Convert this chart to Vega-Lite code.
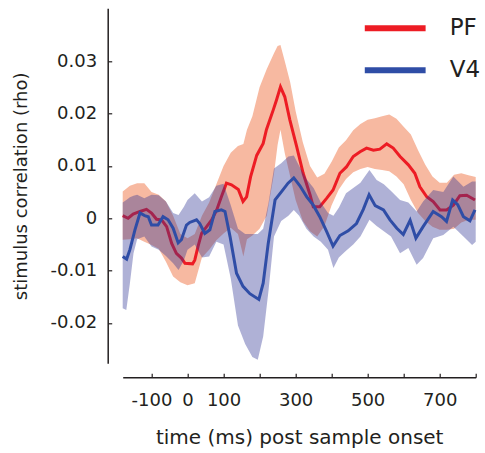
{
  "$schema": "https://vega.github.io/schema/vega-lite/v6.json",
  "width": 353,
  "height": 355,
  "autosize": {"type": "none"},
  "padding": {"left": 122.7, "top": 8.3, "right": 9.3, "bottom": 89.7},
  "config": {
    "font": "DejaVu Sans",
    "view": {"stroke": null},
    "axis": {
      "grid": false,
      "domainColor": "#231F20",
      "tickColor": "#231F20",
      "labelColor": "#231F20",
      "titleColor": "#231F20",
      "domainWidth": 1.5,
      "tickWidth": 1.2,
      "tickSize": -4,
      "labelFontSize": 18,
      "titleFontWeight": "normal",
      "labelFlush": false
    }
  },
  "datasets": {
    "pf_band": [
      {"t": -180, "lo": -0.0041, "hi": 0.0051},
      {"t": -160, "lo": -0.0040, "hi": 0.0062},
      {"t": -140, "lo": -0.0038, "hi": 0.0067},
      {"t": -120, "lo": -0.0045, "hi": 0.0067},
      {"t": -100, "lo": -0.0051, "hi": 0.0050},
      {"t": -80, "lo": -0.0058, "hi": 0.0045},
      {"t": -60, "lo": -0.0083, "hi": 0.0032},
      {"t": -40, "lo": -0.0111, "hi": 0.0005},
      {"t": -20, "lo": -0.0122, "hi": -0.0030},
      {"t": 0, "lo": -0.0128, "hi": -0.0038},
      {"t": 20, "lo": -0.0124, "hi": -0.0030},
      {"t": 40, "lo": -0.0075, "hi": 0.0005},
      {"t": 60, "lo": -0.0060, "hi": 0.0030},
      {"t": 80, "lo": -0.0042, "hi": 0.0065},
      {"t": 100, "lo": -0.0029, "hi": 0.0100},
      {"t": 120, "lo": -0.0018, "hi": 0.0125},
      {"t": 140, "lo": -0.0030, "hi": 0.0138},
      {"t": 155, "lo": -0.0073, "hi": 0.0142},
      {"t": 165, "lo": -0.0040, "hi": 0.0169},
      {"t": 180, "lo": -0.0033, "hi": 0.0195},
      {"t": 200, "lo": -0.0020, "hi": 0.0250},
      {"t": 220, "lo": 0.0005, "hi": 0.0285},
      {"t": 240, "lo": 0.0085, "hi": 0.0315},
      {"t": 250, "lo": 0.0140, "hi": 0.0329},
      {"t": 258, "lo": 0.0169, "hi": 0.0331},
      {"t": 270, "lo": 0.0124, "hi": 0.0300},
      {"t": 285, "lo": 0.0080, "hi": 0.0260},
      {"t": 300, "lo": 0.0035, "hi": 0.0205},
      {"t": 320, "lo": -0.0005, "hi": 0.0145},
      {"t": 340, "lo": -0.0025, "hi": 0.0100},
      {"t": 360, "lo": -0.0035, "hi": 0.0078},
      {"t": 380, "lo": -0.0015, "hi": 0.0085},
      {"t": 400, "lo": 0.0025, "hi": 0.0108},
      {"t": 420, "lo": 0.0055, "hi": 0.0135},
      {"t": 440, "lo": 0.0075, "hi": 0.0149},
      {"t": 460, "lo": 0.0088, "hi": 0.0168},
      {"t": 480, "lo": 0.0094, "hi": 0.0180},
      {"t": 500, "lo": 0.0098, "hi": 0.0188},
      {"t": 520, "lo": 0.0094, "hi": 0.0191},
      {"t": 540, "lo": 0.0092, "hi": 0.0195},
      {"t": 560, "lo": 0.0090, "hi": 0.0198},
      {"t": 580, "lo": 0.0080, "hi": 0.0190},
      {"t": 600, "lo": 0.0065, "hi": 0.0175},
      {"t": 620, "lo": 0.0035, "hi": 0.0160},
      {"t": 640, "lo": 0.0010, "hi": 0.0130},
      {"t": 660, "lo": -0.0005, "hi": 0.0102},
      {"t": 680, "lo": -0.0016, "hi": 0.0080},
      {"t": 700, "lo": -0.0022, "hi": 0.0068},
      {"t": 720, "lo": -0.0022, "hi": 0.0068},
      {"t": 740, "lo": -0.0020, "hi": 0.0083},
      {"t": 760, "lo": -0.0008, "hi": 0.0086},
      {"t": 780, "lo": -0.0003, "hi": 0.0082},
      {"t": 800, "lo": -0.0003, "hi": 0.0079}
    ],
    "v4_band": [
      {"t": -180, "lo": -0.0172, "hi": 0.0030},
      {"t": -170, "lo": -0.0175, "hi": 0.0035},
      {"t": -160, "lo": -0.0124, "hi": 0.0040},
      {"t": -150, "lo": -0.0067, "hi": 0.0043},
      {"t": -140, "lo": -0.0040, "hi": 0.0045},
      {"t": -120, "lo": -0.0035, "hi": 0.0038},
      {"t": -100, "lo": -0.0054, "hi": 0.0045},
      {"t": -80, "lo": -0.0060, "hi": 0.0044},
      {"t": -60, "lo": -0.0072, "hi": 0.0032},
      {"t": -40, "lo": -0.0086, "hi": 0.0010},
      {"t": -25, "lo": -0.0099, "hi": 0.0006},
      {"t": -10, "lo": -0.0080, "hi": 0.0022},
      {"t": 0, "lo": -0.0060, "hi": 0.0035},
      {"t": 20, "lo": -0.0050, "hi": 0.0048},
      {"t": 40, "lo": -0.0075, "hi": 0.0032},
      {"t": 60, "lo": -0.0073, "hi": 0.0040},
      {"t": 80, "lo": -0.0045, "hi": 0.0062},
      {"t": 100, "lo": -0.0050, "hi": 0.0066},
      {"t": 120, "lo": -0.0115, "hi": 0.0025},
      {"t": 140, "lo": -0.0205, "hi": -0.0020},
      {"t": 160, "lo": -0.0240, "hi": -0.0030},
      {"t": 180, "lo": -0.0265, "hi": -0.0030},
      {"t": 195, "lo": -0.0270, "hi": -0.0030},
      {"t": 210, "lo": -0.0226, "hi": -0.0020},
      {"t": 225, "lo": -0.0137, "hi": 0.0030},
      {"t": 240, "lo": -0.0035, "hi": 0.0095},
      {"t": 260, "lo": -0.0005, "hi": 0.0105},
      {"t": 280, "lo": 0.0005, "hi": 0.0118},
      {"t": 295, "lo": 0.0016, "hi": 0.0120},
      {"t": 310, "lo": 0.0005, "hi": 0.0100},
      {"t": 330, "lo": -0.0020, "hi": 0.0075},
      {"t": 350, "lo": -0.0035, "hi": 0.0058},
      {"t": 370, "lo": -0.0045, "hi": 0.0030},
      {"t": 390, "lo": -0.0060, "hi": 0.0010},
      {"t": 405, "lo": -0.0095, "hi": 0.0005},
      {"t": 420, "lo": -0.0075, "hi": 0.0020},
      {"t": 440, "lo": -0.0062, "hi": 0.0048},
      {"t": 460, "lo": -0.0050, "hi": 0.0058},
      {"t": 480, "lo": -0.0035, "hi": 0.0068},
      {"t": 505, "lo": -0.0003, "hi": 0.0092},
      {"t": 525, "lo": -0.0015, "hi": 0.0073},
      {"t": 545, "lo": -0.0025, "hi": 0.0065},
      {"t": 565, "lo": -0.0035, "hi": 0.0052},
      {"t": 590, "lo": -0.0067, "hi": 0.0035},
      {"t": 613, "lo": -0.0057, "hi": 0.0030},
      {"t": 636, "lo": -0.0089, "hi": 0.0013},
      {"t": 654, "lo": -0.0076, "hi": 0.0032},
      {"t": 682, "lo": -0.0038, "hi": 0.0054},
      {"t": 710, "lo": -0.0032, "hi": 0.0050},
      {"t": 738, "lo": -0.0016, "hi": 0.0080},
      {"t": 766, "lo": -0.0035, "hi": 0.0060},
      {"t": 790, "lo": -0.0051, "hi": 0.0070},
      {"t": 800, "lo": -0.0045, "hi": 0.0070}
    ],
    "pf_line": [
      {"series": "PF", "t": -180, "v": 0.0005},
      {"series": "PF", "t": -165, "v": 0.0},
      {"series": "PF", "t": -151, "v": 0.0008},
      {"series": "PF", "t": -132, "v": 0.0013},
      {"series": "PF", "t": -114, "v": 0.0017},
      {"series": "PF", "t": -100, "v": 0.0010},
      {"series": "PF", "t": -86, "v": -0.0002},
      {"series": "PF", "t": -72, "v": -0.0003},
      {"series": "PF", "t": -58, "v": -0.0016},
      {"series": "PF", "t": -44, "v": -0.0048},
      {"series": "PF", "t": -31, "v": -0.0067},
      {"series": "PF", "t": -17, "v": -0.0076},
      {"series": "PF", "t": -7, "v": -0.0086},
      {"series": "PF", "t": 14, "v": -0.0087},
      {"series": "PF", "t": 20, "v": -0.0080},
      {"series": "PF", "t": 29, "v": -0.0054},
      {"series": "PF", "t": 39, "v": -0.0029},
      {"series": "PF", "t": 53, "v": -0.0016},
      {"series": "PF", "t": 67, "v": -0.0003},
      {"series": "PF", "t": 81, "v": 0.0016},
      {"series": "PF", "t": 94, "v": 0.0041},
      {"series": "PF", "t": 108, "v": 0.0067},
      {"series": "PF", "t": 122, "v": 0.0064},
      {"series": "PF", "t": 141, "v": 0.0055},
      {"series": "PF", "t": 154, "v": 0.0032},
      {"series": "PF", "t": 164, "v": 0.0041},
      {"series": "PF", "t": 175, "v": 0.0079},
      {"series": "PF", "t": 192, "v": 0.0120},
      {"series": "PF", "t": 210, "v": 0.0143},
      {"series": "PF", "t": 219, "v": 0.0169},
      {"series": "PF", "t": 238, "v": 0.0207},
      {"series": "PF", "t": 247, "v": 0.0226},
      {"series": "PF", "t": 258, "v": 0.0251},
      {"series": "PF", "t": 270, "v": 0.0232},
      {"series": "PF", "t": 284, "v": 0.0188},
      {"series": "PF", "t": 303, "v": 0.0137},
      {"series": "PF", "t": 321, "v": 0.0086},
      {"series": "PF", "t": 340, "v": 0.0045},
      {"series": "PF", "t": 349, "v": 0.0022},
      {"series": "PF", "t": 367, "v": 0.0022},
      {"series": "PF", "t": 386, "v": 0.0038},
      {"series": "PF", "t": 404, "v": 0.0054},
      {"series": "PF", "t": 423, "v": 0.0086},
      {"series": "PF", "t": 441, "v": 0.0098},
      {"series": "PF", "t": 460, "v": 0.0118},
      {"series": "PF", "t": 479, "v": 0.0127},
      {"series": "PF", "t": 497, "v": 0.0134},
      {"series": "PF", "t": 516, "v": 0.0130},
      {"series": "PF", "t": 534, "v": 0.0132},
      {"series": "PF", "t": 553, "v": 0.0142},
      {"series": "PF", "t": 571, "v": 0.0134},
      {"series": "PF", "t": 590, "v": 0.0118},
      {"series": "PF", "t": 613, "v": 0.0102},
      {"series": "PF", "t": 631, "v": 0.0086},
      {"series": "PF", "t": 645, "v": 0.0060},
      {"series": "PF", "t": 664, "v": 0.0041},
      {"series": "PF", "t": 682, "v": 0.0032},
      {"series": "PF", "t": 701, "v": 0.0016},
      {"series": "PF", "t": 719, "v": 0.0016},
      {"series": "PF", "t": 738, "v": 0.0025},
      {"series": "PF", "t": 756, "v": 0.0043},
      {"series": "PF", "t": 775, "v": 0.0044},
      {"series": "PF", "t": 798, "v": 0.0035}
    ],
    "v4_line": [
      {"series": "V4", "t": -180, "v": -0.0073},
      {"series": "V4", "t": -169, "v": -0.0078},
      {"series": "V4", "t": -160, "v": -0.0060},
      {"series": "V4", "t": -146, "v": -0.0022},
      {"series": "V4", "t": -132, "v": 0.0010},
      {"series": "V4", "t": -119, "v": 0.0005},
      {"series": "V4", "t": -109, "v": 0.0003},
      {"series": "V4", "t": -100, "v": -0.0013},
      {"series": "V4", "t": -82, "v": -0.0013},
      {"series": "V4", "t": -68, "v": 0.0003},
      {"series": "V4", "t": -54, "v": -0.0003},
      {"series": "V4", "t": -40, "v": -0.0019},
      {"series": "V4", "t": -26, "v": -0.0047},
      {"series": "V4", "t": -17, "v": -0.0041},
      {"series": "V4", "t": -3, "v": -0.0013},
      {"series": "V4", "t": 6, "v": -0.0008},
      {"series": "V4", "t": 25, "v": -0.0003},
      {"series": "V4", "t": 34, "v": -0.0010},
      {"series": "V4", "t": 48, "v": -0.0029},
      {"series": "V4", "t": 62, "v": -0.0022},
      {"series": "V4", "t": 76, "v": 0.0013},
      {"series": "V4", "t": 94, "v": 0.0016},
      {"series": "V4", "t": 104, "v": 0.0013},
      {"series": "V4", "t": 118, "v": -0.0035},
      {"series": "V4", "t": 136, "v": -0.0105},
      {"series": "V4", "t": 154, "v": -0.0130},
      {"series": "V4", "t": 173, "v": -0.0144},
      {"series": "V4", "t": 198, "v": -0.0155},
      {"series": "V4", "t": 210, "v": -0.0124},
      {"series": "V4", "t": 224, "v": -0.0048},
      {"series": "V4", "t": 243, "v": 0.0035},
      {"series": "V4", "t": 261, "v": 0.0051},
      {"series": "V4", "t": 279, "v": 0.0067},
      {"series": "V4", "t": 295, "v": 0.0077},
      {"series": "V4", "t": 312, "v": 0.0062},
      {"series": "V4", "t": 331, "v": 0.0041},
      {"series": "V4", "t": 349, "v": 0.0025},
      {"series": "V4", "t": 367, "v": 0.0003},
      {"series": "V4", "t": 386, "v": -0.0025},
      {"series": "V4", "t": 404, "v": -0.0053},
      {"series": "V4", "t": 423, "v": -0.0033},
      {"series": "V4", "t": 446, "v": -0.0024},
      {"series": "V4", "t": 469, "v": -0.0010},
      {"series": "V4", "t": 488, "v": 0.0017},
      {"series": "V4", "t": 504, "v": 0.0045},
      {"series": "V4", "t": 521, "v": 0.0024},
      {"series": "V4", "t": 544, "v": 0.0016},
      {"series": "V4", "t": 562, "v": -0.0003},
      {"series": "V4", "t": 581, "v": -0.0019},
      {"series": "V4", "t": 599, "v": -0.0031},
      {"series": "V4", "t": 618, "v": -0.0004},
      {"series": "V4", "t": 634, "v": -0.0038},
      {"series": "V4", "t": 654, "v": -0.0016},
      {"series": "V4", "t": 682, "v": 0.0013},
      {"series": "V4", "t": 705, "v": 0.0003},
      {"series": "V4", "t": 719, "v": -0.0006},
      {"series": "V4", "t": 736, "v": 0.0035},
      {"series": "V4", "t": 750, "v": 0.0026},
      {"series": "V4", "t": 766, "v": 0.0003},
      {"series": "V4", "t": 784, "v": -0.0005},
      {"series": "V4", "t": 798, "v": 0.0016}
    ]
  },
  "layer": [
    {
      "data": {"name": "pf_band"},
      "mark": {"type": "area", "color": "#F7B9A1"},
      "encoding": {
        "x": {
          "field": "t", "type": "quantitative",
          "scale": {"domain": [-180, 800], "nice": false, "zero": false},
          "axis": {
            "title": "time (ms) post sample onset",
            "titleFontSize": 20,
            "titlePadding": 18,
            "offset": 14,
            "labelPadding": 18,
            "labelOverlap": false,
            "tickCount": 20,
            "values": [-100, 0, 100, 200, 300, 400, 500, 600, 700, 800],
            "labelExpr": "datum.value == -100 ? '-100' : datum.value == 0 ? '0' : datum.value == 100 ? '100' : datum.value == 300 ? '300' : datum.value == 500 ? '500' : datum.value == 700 ? '700' : ' '"
          }
        },
        "y": {
          "field": "lo", "type": "quantitative",
          "scale": {"domain": [-0.0277, 0.0401], "nice": false, "zero": false},
          "axis": {
            "title": "stimulus correlation (rho)",
            "titleFontSize": 18,
            "titlePadding": 20,
            "offset": 15,
            "labelPadding": 15,
            "tickCount": 20,
            "values": [-0.02, -0.01, 0, 0.01, 0.02, 0.03],
            "labelExpr": "datum.value == 0 ? '0' : (datum.value < 0 ? '-' : '') + format(abs(datum.value), '.2f')"
          }
        },
        "y2": {"field": "hi"}
      }
    },
    {
      "data": {"name": "pf_line"},
      "mark": {"type": "line", "strokeWidth": 3},
      "encoding": {
        "x": {"field": "t", "type": "quantitative"},
        "y": {"field": "v", "type": "quantitative"},
        "stroke": {
          "field": "series", "type": "nominal",
          "scale": {"domain": ["PF", "V4"], "range": ["#ED1C24", "#2F4DA6"]},
          "legend": {
            "orient": "none",
            "legendX": 239,
            "legendY": 5,
            "title": null,
            "padding": 0,
            "symbolType": "stroke",
            "symbolSize": 3700,
            "symbolStrokeWidth": 6,
            "symbolOpacity": 1,
            "labelFontSize": 23,
            "labelOffset": 21,
            "labelColor": "#231F20",
            "clipHeight": 30,
            "rowPadding": 12
          }
        }
      }
    },
    {
      "data": {"name": "v4_band"},
      "mark": {"type": "area", "color": "#2E3192", "opacity": 0.38},
      "encoding": {
        "x": {"field": "t", "type": "quantitative"},
        "y": {"field": "lo", "type": "quantitative"},
        "y2": {"field": "hi"}
      }
    },
    {
      "data": {"name": "v4_line"},
      "mark": {"type": "line", "strokeWidth": 3},
      "encoding": {
        "x": {"field": "t", "type": "quantitative"},
        "y": {"field": "v", "type": "quantitative"},
        "stroke": {"field": "series", "type": "nominal"}
      }
    }
  ]
}
